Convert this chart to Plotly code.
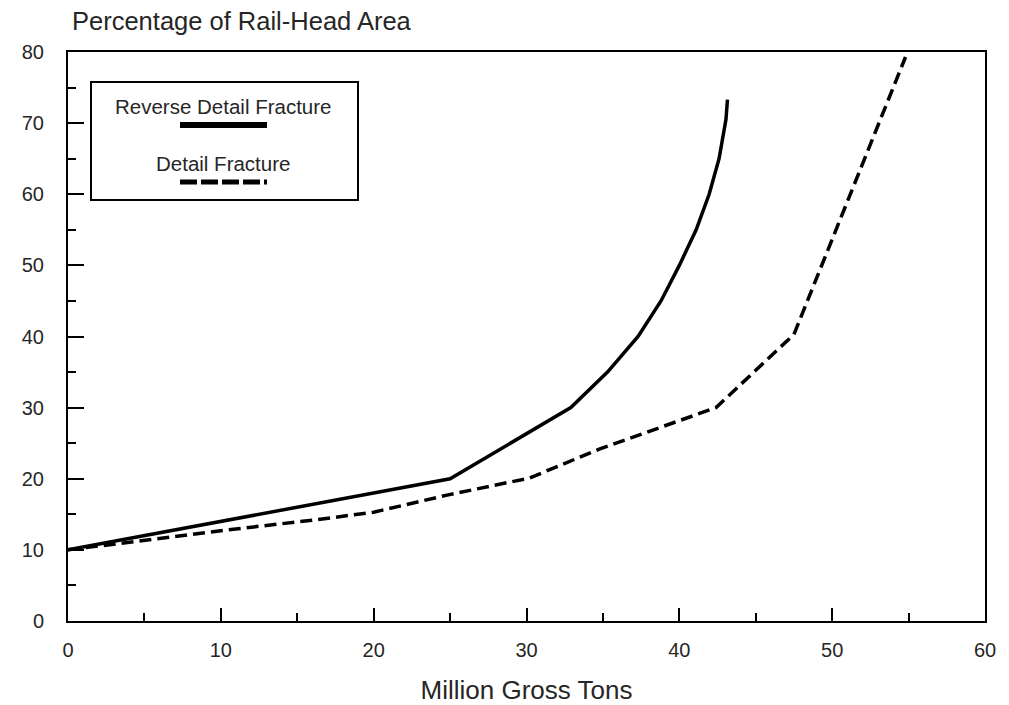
import plotly.graph_objects as go

# Reverse Detail Fracture (solid)
rdf_mgt = [0, 10, 16.5, 25, 32.9, 35.3, 37.3, 38.8, 40.0, 41.1, 41.95, 42.6, 43.05, 43.15]
rdf_pct = [10, 14, 16.6, 20, 30, 35, 40, 45, 50, 55, 60, 65, 70.5, 73.3]

# Detail Fracture (dashed)
df_mgt = [0, 10, 16.5, 20, 24.8, 30.2, 34.8, 42.4, 47.5, 54.8]
df_pct = [10, 12.7, 14.3, 15.3, 17.7, 20.1, 24.2, 30, 40.3, 79.3]

x_ticks = [0, 10, 20, 30, 40, 50, 60]
y_ticks = [0, 10, 20, 30, 40, 50, 60, 70, 80]

FONT = "Liberation Sans, Arial, sans-serif"
TXT = "#262626"

fig = go.Figure()
fig.add_trace(go.Scatter(x=rdf_mgt, y=rdf_pct, mode="lines", name="Reverse Detail Fracture",
                         line=dict(color="black", width=3.5)))
fig.add_trace(go.Scatter(x=df_mgt, y=df_pct, mode="lines", name="Detail Fracture",
                         line=dict(color="black", width=3.5, dash="12px,6px")))

W, H = 1009, 705
L, R, T, B = 68, 24, 52, 84
pw, ph = W - L - R, H - T - B


def px(x):
    return (x - L) / pw


def py(y):
    return (H - B - y) / ph


# Legend box drawn manually (text above line sample)
shapes = [
    dict(type="rect", xref="paper", yref="paper", x0=px(91), x1=px(358), y0=py(200), y1=py(82),
         line=dict(color="black", width=2), fillcolor="white", layer="above"),
    dict(type="line", xref="paper", yref="paper", x0=px(180), x1=px(267), y0=py(125), y1=py(125),
         line=dict(color="black", width=6)),
    dict(type="line", xref="paper", yref="paper", x0=px(180), x1=px(267), y0=py(182), y1=py(182),
         line=dict(color="black", width=5, dash="17px,4px")),
]
annotations = [
    dict(text="Reverse Detail Fracture", xref="paper", yref="paper", x=px(223), y=py(107),
         showarrow=False, xanchor="center", yanchor="middle",
         font=dict(family=FONT, size=20.5, color=TXT)),
    dict(text="Detail Fracture", xref="paper", yref="paper", x=px(223), y=py(163),
         showarrow=False, xanchor="center", yanchor="middle",
         font=dict(family=FONT, size=20.5, color=TXT)),
    dict(text="Percentage of Rail-Head Area", xref="paper", yref="paper", x=px(70), y=py(21),
         showarrow=False, xanchor="left", yanchor="middle",
         font=dict(family=FONT, size=25.5, color=TXT)),
]

fig.update_layout(
    width=W, height=H,
    margin=dict(l=L, r=R, t=T, b=B, pad=0, autoexpand=False),
    plot_bgcolor="white", paper_bgcolor="white",
    showlegend=False,
    shapes=shapes, annotations=annotations,
    font=dict(family=FONT, color=TXT),
)
fig.update_xaxes(
    range=[0, 60], tickvals=x_ticks, ticktext=[str(v) for v in x_ticks],
    showgrid=False, zeroline=False, automargin=False,
    showline=True, linecolor="black", linewidth=2, mirror=True,
    ticks="inside", ticklen=13, tickwidth=2, tickcolor="black",
    minor=dict(dtick=5, ticks="inside", ticklen=8, tickwidth=2, tickcolor="black", showgrid=False),
    tickfont=dict(family=FONT, size=20, color=TXT),
    ticklabelstandoff=10,
    title=dict(text="Million Gross Tons", font=dict(family=FONT, size=26, color=TXT), standoff=24),
)
fig.update_yaxes(
    range=[0, 80], tickvals=y_ticks, ticktext=[str(v) for v in y_ticks],
    showgrid=False, zeroline=False, automargin=False,
    showline=True, linecolor="black", linewidth=2, mirror=True,
    ticks="inside", ticklen=16, tickwidth=2, tickcolor="black",
    minor=dict(dtick=5, ticks="inside", ticklen=8, tickwidth=2, tickcolor="black", showgrid=False),
    tickfont=dict(family=FONT, size=20, color=TXT),
    ticklabelstandoff=18,
)

fig.write_html("out.html", config={"displayModeBar": False},
               post_script="document.body.style.margin='0';document.body.style.overflow='hidden';")
